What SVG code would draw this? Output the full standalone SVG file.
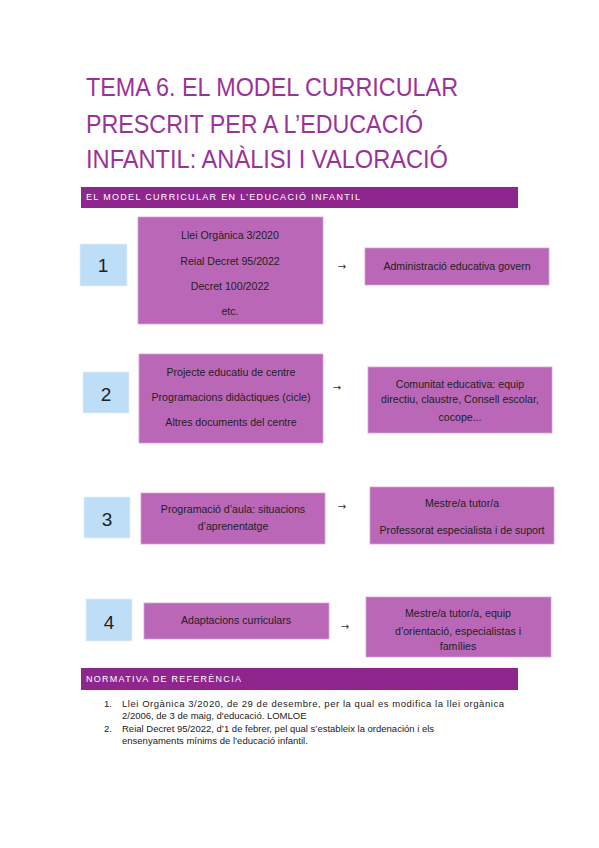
<svg xmlns="http://www.w3.org/2000/svg" width="599" height="848" viewBox="0 0 599 848">
<style>
.title{font-family:"Liberation Sans",Arial,sans-serif;font-size:25px;fill:#9A3399}
.bar{fill:#8E268D}
.bartxt{font-family:"Liberation Sans",Arial,sans-serif;font-size:9px;fill:#fff;letter-spacing:1.1px}
.box{fill:#BA67B8;stroke:#D7A4D6;stroke-width:0.8}
.num{fill:#BEDDF6;stroke:#E4F0FB;stroke-width:0.8}
.numtxt{font-family:"Liberation Sans",Arial,sans-serif;font-size:19px;fill:#222;text-anchor:middle}
.t{font-family:"Liberation Sans",Arial,sans-serif;font-size:10.6px;fill:#222;text-anchor:middle}
.arr{font-family:"DejaVu Sans",sans-serif;font-size:10px;fill:#333;text-anchor:middle}
.ref{font-family:"Liberation Sans",Arial,sans-serif;font-size:9.5px;fill:#222}
</style>
<rect width="599" height="848" fill="#fff"/>
<g id="title">
<text class="title" x="86" y="96" textLength="372" lengthAdjust="spacingAndGlyphs">TEMA 6. EL MODEL CURRICULAR</text>
<text class="title" x="86" y="133" textLength="337" lengthAdjust="spacingAndGlyphs">PRESCRIT PER A L’EDUCACIÓ</text>
<text class="title" x="86" y="168" textLength="362" lengthAdjust="spacingAndGlyphs">INFANTIL: ANÀLISI I VALORACIÓ</text>
</g>
<g id="header1">
<rect class="bar" x="81" y="187" width="437" height="21"/>
<text class="bartxt" x="86" y="200" textLength="275">EL MODEL CURRICULAR EN L’EDUCACIÓ INFANTIL</text>
</g>
<g id="num1"><rect class="num" x="80" y="244" width="47" height="42"/><text class="numtxt" x="103" y="272">1</text></g>
<g id="node1">
<rect class="box" x="138" y="217" width="185" height="107"/>
<text class="t" x="230" y="238.5">Llei Orgànica 3/2020</text>
<text class="t" x="230" y="264.5">Reial Decret 95/2022</text>
<text class="t" x="230" y="289.5">Decret 100/2022</text>
<text class="t" x="230" y="314.5">etc.</text>
</g>
<g id="target1">
<rect class="box" x="365" y="248" width="184" height="37"/>
<text class="t" x="457" y="269.5">Administració educativa govern</text>
</g>
<g id="num2"><rect class="num" x="83" y="372" width="46" height="41"/><text class="numtxt" x="106" y="401">2</text></g>
<g id="node2">
<rect class="box" x="139" y="354" width="184" height="89"/>
<text class="t" x="231" y="375.5">Projecte educatiu de centre</text>
<text class="t" x="231" y="400.5">Programacions didàctiques (cicle)</text>
<text class="t" x="231" y="425.5">Altres documents del centre</text>
</g>
<g id="target2">
<rect class="box" x="368" y="367" width="184" height="66"/>
<text class="t" x="460" y="387.5">Comunitat educativa: equip</text>
<text class="t" x="460" y="402.5">directiu, claustre, Consell escolar,</text>
<text class="t" x="460" y="420.5">cocope...</text>
</g>
<g id="num3"><rect class="num" x="84" y="497" width="46" height="41"/><text class="numtxt" x="107" y="526">3</text></g>
<g id="node3">
<rect class="box" x="141" y="493" width="184" height="51"/>
<text class="t" x="233" y="512.5">Programació d’aula: situacions</text>
<text class="t" x="233" y="529.5">d’aprenentatge</text>
</g>
<g id="target3">
<rect class="box" x="370" y="487" width="184" height="57"/>
<text class="t" x="462" y="506.5">Mestre/a tutor/a</text>
<text class="t" x="462" y="533.5">Professorat especialista i de suport</text>
</g>
<g id="num4"><rect class="num" x="86" y="599" width="46" height="42"/><text class="numtxt" x="109" y="629">4</text></g>
<g id="node4">
<rect class="box" x="144" y="603" width="185" height="36"/>
<text class="t" x="236" y="623.5">Adaptacions curriculars</text>
</g>
<g id="target4">
<rect class="box" x="366" y="597" width="185" height="60"/>
<text class="t" x="458" y="616.5">Mestre/a tutor/a, equip</text>
<text class="t" x="458" y="634.5">d’orientació, especialistas i</text>
<text class="t" x="458" y="649.5">famílies</text>
</g>
<g id="connectors">
<text class="arr" x="342" y="270">→</text>
<text class="arr" x="337" y="391">→</text>
<text class="arr" x="342" y="510">→</text>
<text class="arr" x="345" y="630">→</text>
</g>
<g id="header2">
<rect class="bar" x="81" y="668" width="437" height="22"/>
<text class="bartxt" x="86" y="682" textLength="156">NORMATIVA DE REFERÈNCIA</text>
</g>
<g id="references">
<text class="ref" x="104" y="707">1.</text>
<text class="ref" x="122" y="707" textLength="382">Llei Orgànica 3/2020, de 29 de desembre, per la qual es modifica la llei orgànica</text>
<text class="ref" x="122" y="719">2/2006, de 3 de maig, d'educació. LOMLOE</text>
<text class="ref" x="104" y="732">2.</text>
<text class="ref" x="122" y="732">Reial Decret 95/2022, d’1 de febrer, pel qual s’estableix la ordenación i els</text>
<text class="ref" x="122" y="744">ensenyaments mínims de l’educació infantil.</text>
</g>
</svg>
